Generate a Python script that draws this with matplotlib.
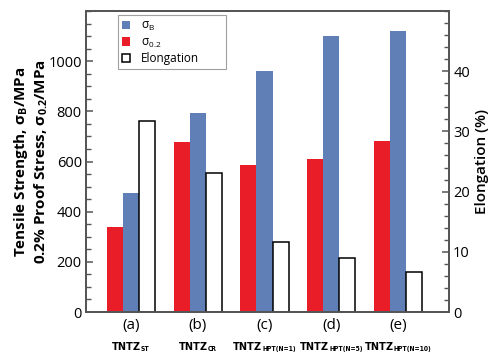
import matplotlib
matplotlib.use("Agg")
import matplotlib.pyplot as plt
import numpy as np
from matplotlib.ticker import MultipleLocator
from matplotlib import font_manager as fm

plt.rcParams['font.family'] = ['Open Sans', 'DejaVu Sans']
plt.rcParams['mathtext.default'] = 'regular'

letters = ['(a)', '(b)', '(c)', '(d)', '(e)']
subs = ['ST', 'CR', 'HPT(N=1)', 'HPT(N=5)', 'HPT(N=10)']
sigma_B = [473, 795, 961, 1099, 1121]
sigma_02 = [340, 677, 585, 611, 681]
elongation = [31.8, 23.1, 11.6, 8.9, 6.6]

red = '#e81d27'
blue = '#5f7fb6'
spine_c = '#555555'

narrow_fp = None
for fam in ['Liberation Sans Narrow']:
    try:
        fm.findfont(fm.FontProperties(family=fam, weight='bold'), fallback_to_default=False)
        narrow_fp = dict(family=fam)
        break
    except Exception:
        pass
if narrow_fp is None:
    narrow_fp = dict(family='DejaVu Sans', stretch='condensed')

fig = plt.figure(figsize=(5, 3.6), dpi=100)
ax = fig.add_axes([0.172, 0.1333, 0.726, 0.8361])
ax2 = ax.twinx()

x = np.arange(len(letters))
w = 0.24
b1 = ax.bar(x - w, sigma_02, w, color=red, align='center', zorder=2)
b0 = ax.bar(x, sigma_B, w, color=blue, align='center', zorder=2)
b2 = ax2.bar(x + w, elongation, w, facecolor='white', edgecolor='black', linewidth=1.1,
             align='center', zorder=2)

ax.set_xlim(-0.67, 4.76)
ax.set_ylim(0, 1200)
ax2.set_ylim(0, 50)

ax.yaxis.set_major_locator(MultipleLocator(200))
ax.yaxis.set_minor_locator(MultipleLocator(50))
ax2.yaxis.set_major_locator(MultipleLocator(10))
ax2.yaxis.set_minor_locator(MultipleLocator(2))

for a in (ax, ax2):
    for s in a.spines.values():
        s.set_color(spine_c)
        s.set_linewidth(1.3)
    a.tick_params(axis='y', which='major', direction='in', length=5, width=1.1, color=spine_c,
                  labelsize=10.5, pad=3)
    a.tick_params(axis='y', which='minor', direction='in', length=3.5, width=1.0, color=spine_c)

ax.set_yticks([0, 200, 400, 600, 800, 1000])
ax2.set_yticks([0, 10, 20, 30, 40])

ax.tick_params(axis='x', length=0, pad=4)
ax.set_xticks(x)
ax.set_xticklabels(letters, fontsize=11)

# two-part labels: "TNTZ" with a small subscript
renderer = fig.canvas.get_renderer()
main_y, sub_y = -27.0, -28.3
for xi, s in zip(x, subs):
    t1 = ax.annotate('TNTZ', xy=(xi, 0), xycoords=('data', 'axes fraction'),
                     xytext=(0, main_y), textcoords='offset points', ha='left',
                     va='baseline', fontsize=7.8, fontweight='bold', **narrow_fp)
    t2 = ax.annotate(s, xy=(xi, 0), xycoords=('data', 'axes fraction'),
                     xytext=(0, sub_y), textcoords='offset points', ha='left',
                     va='baseline', fontsize=4.9, fontweight='bold', **narrow_fp)
    w1 = t1.get_window_extent(renderer).width * 72 / fig.dpi
    w2 = t2.get_window_extent(renderer).width * 72 / fig.dpi
    gap = 0.0
    x0 = -(w1 + w2 + gap) / 2
    t1.xyann = (x0, main_y)
    t2.xyann = (x0 + w1 + gap, sub_y)

ax.set_ylabel('Tensile Strength, σ$_B$/MPa\n0.2% Proof Stress, σ$_{0.2}$/MPa',
              fontsize=11, fontweight='bold', linespacing=1.2)
ax.yaxis.set_label_coords(-0.1, 0.5)
ax2.set_ylabel('Elongation (%)', fontsize=11, fontweight='semibold', labelpad=4)

leg = ax.legend([b0, b1, b2], ['σ$_B$', 'σ$_{0.2}$', 'Elongation'],
                loc='upper left', bbox_to_anchor=(0.088, 0.987, 0.2975, 0), mode='expand',
                fontsize=8.5, frameon=True, fancybox=False, edgecolor='#888888',
                handlelength=0.7, handleheight=0.7, handletextpad=0.9, borderpad=0.35,
                labelspacing=0.2, borderaxespad=0)
leg.get_frame().set_linewidth(0.8)
leg.set_zorder(10)

fig.savefig('out.png', dpi=100)
